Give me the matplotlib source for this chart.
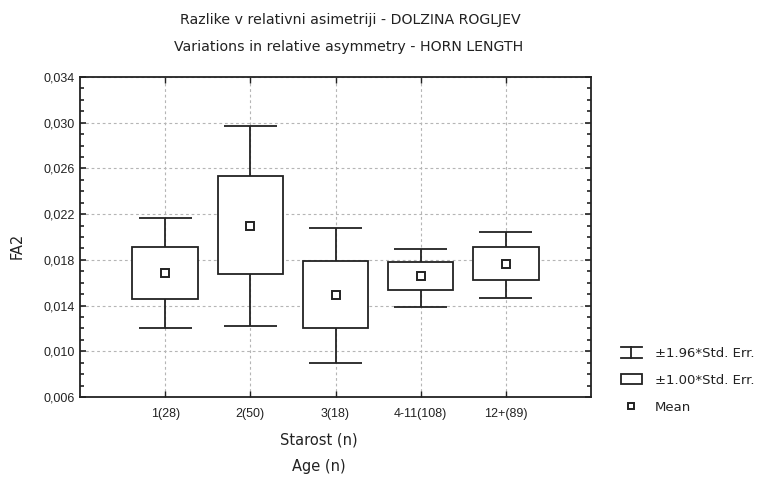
import matplotlib
matplotlib.use("Agg")
import matplotlib.pyplot as plt
from matplotlib.ticker import FuncFormatter, MultipleLocator
from matplotlib.legend_handler import HandlerBase
from matplotlib.lines import Line2D
from matplotlib.patches import Rectangle

categories = ["1(28)", "2(50)", "3(18)", "4-11(108)", "12+(89)"]
means = [0.01688, 0.02096, 0.01490, 0.01655, 0.01764]
box_low = [0.01460, 0.01673, 0.01207, 0.01536, 0.01626]
box_high = [0.01912, 0.02531, 0.01790, 0.01778, 0.01910]
whisk_low = [0.01200, 0.01221, 0.00894, 0.01390, 0.01469]
whisk_high = [0.02166, 0.02968, 0.02076, 0.01898, 0.02041]
y_ticks = [0.006, 0.010, 0.014, 0.018, 0.022, 0.026, 0.030, 0.034]

title1 = "Razlike v relativni asimetriji - DOLZINA ROGLJEV"
title2 = "Variations in relative asymmetry - HORN LENGTH"
xlabel1 = "Starost (n)"
xlabel2 = "Age (n)"
ylabel = "FA2"
legend_labels = ["\u00b11.96*Std. Err.", "\u00b11.00*Std. Err.", "Mean"]

LW = 1.3
INK = "#222222"
fig = plt.figure(figsize=(7.64, 4.82), dpi=100)
ax = fig.add_axes([80 / 764, 1 - 397 / 482, (591 - 80) / 764, (397 - 77) / 482])

x = list(range(1, len(categories) + 1))
box_w = 0.77
cap_w = 0.62

ax.vlines(x, whisk_low, whisk_high, color=INK, lw=LW, zorder=2)
ax.hlines(whisk_low, [i - cap_w / 2 for i in x], [i + cap_w / 2 for i in x], color=INK, lw=LW, zorder=2)
ax.hlines(whisk_high, [i - cap_w / 2 for i in x], [i + cap_w / 2 for i in x], color=INK, lw=LW, zorder=2)
heights = [h - l for h, l in zip(box_high, box_low)]
ax.bar(x, heights, bottom=box_low, width=box_w, color="white", edgecolor=INK, linewidth=LW, zorder=3)
ax.plot(x, means, ls="none", marker="s", ms=5.5, mfc="white", mec=INK, mew=1.4, zorder=4)

ax.set_xlim(0, 6)
ax.set_ylim(0.006, 0.034)
ax.set_xticks(x)
ax.set_xticklabels(categories, fontfamily="Liberation Sans", fontsize=9, color=INK)
ax.set_yticks(y_ticks)
ax.yaxis.set_minor_locator(MultipleLocator(0.001))
ax.yaxis.set_major_formatter(FuncFormatter(lambda v, p: f"{v:.3f}".replace(".", ",")))
for lab in ax.get_yticklabels():
    lab.set_fontfamily("Liberation Sans")
    lab.set_fontsize(9)
    lab.set_color(INK)
ax.tick_params(axis="both", which="both", direction="in", top=True, right=True, color=INK)
ax.tick_params(axis="y", which="major", length=4, width=1.2, pad=4)
ax.tick_params(axis="y", which="minor", length=3, width=1.2)
ax.tick_params(axis="x", which="major", length=4, width=1.0, pad=8)
ax.grid(True, which="major", color="#b5b5b5", ls=(0, (2.5, 2.5)), lw=0.8, zorder=0)
for s in ax.spines.values():
    s.set_linewidth(LW)
    s.set_color(INK)

tf = dict(family="DejaVu Sans", fontsize=10.2, color=INK, ha="center", va="center")
fig.text(350 / 764, 1 - 20 / 482, title1, **tf)
fig.text(349 / 764, 1 - 47 / 482, title2, **tf)
lf = dict(family="DejaVu Sans", fontsize=10.5, color=INK, ha="center", va="center")
fig.text(319 / 764, 1 - 440 / 482, xlabel1, **lf)
fig.text(319 / 764, 1 - 466 / 482, xlabel2, **lf)
fig.text(17 / 764, 1 - 246 / 482, ylabel, rotation=90, **lf)


class WhiskerHandler(HandlerBase):
    def create_artists(self, legend, orig, xd, yd, w, h, fs, trans):
        cx = xd + w / 2
        y0, y1 = yd - 0.1 * h, yd + 1.1 * h
        return [Line2D([xd, xd + w], [y0, y0], color=INK, lw=LW, transform=trans),
                Line2D([xd, xd + w], [y1, y1], color=INK, lw=LW, transform=trans),
                Line2D([cx, cx], [y0, y1], color=INK, lw=LW, transform=trans)]


class BoxHandler(HandlerBase):
    def create_artists(self, legend, orig, xd, yd, w, h, fs, trans):
        return [Rectangle((xd, yd + 0.0 * h), w, 1.0 * h, fc="white", ec=INK, lw=LW, transform=trans)]


h_whisk = Line2D([], [])
h_box = Rectangle((0, 0), 1, 1)
h_mean = Line2D([], [], ls="none", marker="s", ms=5, mfc="white", mec=INK, mew=1.4)
leg = fig.legend([h_whisk, h_box, h_mean], legend_labels,
                 handler_map={h_whisk: WhiskerHandler(), h_box: BoxHandler()},
                 loc="upper left", bbox_to_anchor=(609 / 764, 1 - 335 / 482),
                 frameon=False, handlelength=1.6, handletextpad=1.0, labelspacing=1.05,
                 prop=dict(family="DejaVu Sans", size=9.5))
for t in leg.get_texts():
    t.set_color(INK)

fig.savefig("out.png", dpi=100)
